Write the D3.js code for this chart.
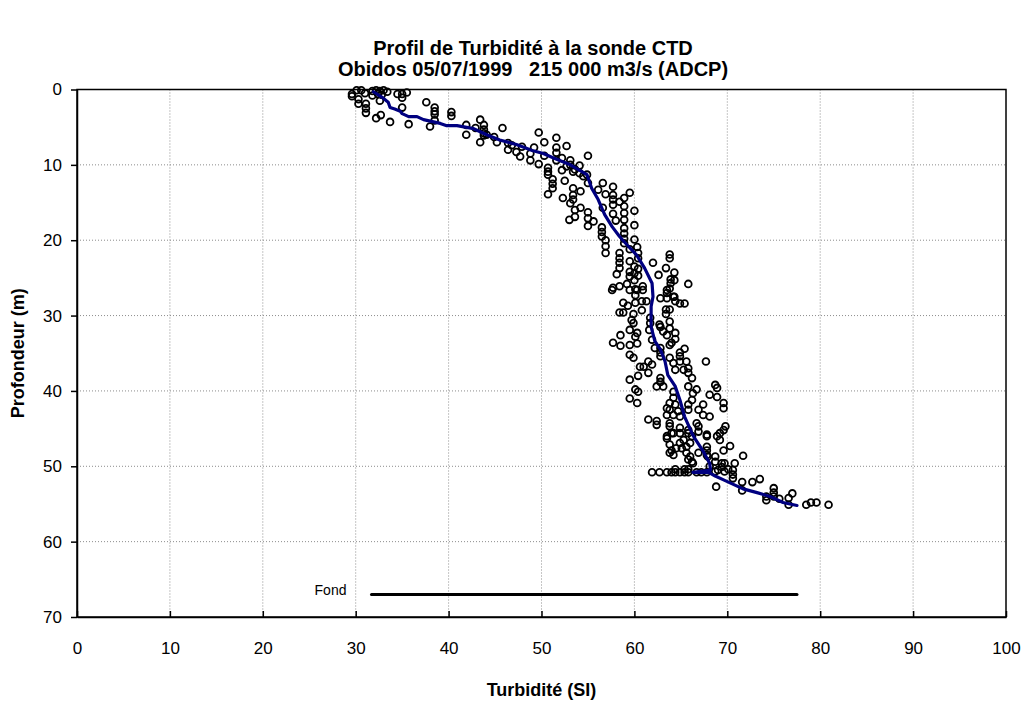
<!DOCTYPE html>
<html>
<head>
<meta charset="utf-8">
<script src="https://cdn.jsdelivr.net/npm/d3@7"></script>
<style>
  html, body { margin: 0; padding: 0; background: #fff; }
  svg { display: block; font-family: "Liberation Sans", Arial, sans-serif; }
</style>
</head>
<body>
<svg id="chart" width="1023" height="702"></svg>
<script>
// CTD turbidity samples: [turbidity (SI), depth (m)]
const samples = [
  [29.6,0.9],[29.6,0.6],[30.1,0.1],[30.3,1.3],[30.3,1.9],[30.6,0.1],[31.0,0.5],[31.1,1.9],[31.1,2.5],[31.1,3.1],
  [31.8,0.2],[32.2,0.1],[32.6,0.2],[33.0,0.1],[33.4,0.3],[31.8,0.8],[32.4,0.6],[32.8,0.7],[32.6,1.5],
  [34.5,0.6],[35.0,0.6],[35.5,0.4],[35.0,1.1],[35.0,2.4],[32.2,3.8],[32.7,3.4],[33.7,4.3],[35.7,4.6],
  [37.6,1.7],[38.5,2.4],[38.5,2.9],[38.5,3.3],[38.5,4.1],[38.0,4.9],[40.3,3.0],[40.3,3.5],[41.9,4.7],[41.9,6.0],
  [42.9,5.1],[43.4,4.0],[43.8,4.7],[43.8,5.3],[43.8,5.8],[43.8,6.1],[43.4,7.0],[44.1,6.0],[45.8,5.1],[44.9,6.3],[45.2,7.0],
  [46.4,7.1],[46.4,8.0],[46.8,7.4],[47.3,8.3],[47.7,8.9],[47.9,7.6],[48.8,8.5],[48.8,9.4],[49.2,7.7],[49.7,5.7],[49.7,9.9],
  [50.3,7.0],[50.3,8.8],[51.6,6.4],
  [52.7,7.5],[51.6,7.7],[55.0,8.8],
  [50.7,10.4],[50.7,10.9],[50.7,11.3],[51.2,11.9],[51.2,12.5],[51.2,13.1],[50.7,13.9],
  [51.6,8.4],[51.6,9.4],[52.2,9.1],[52.2,10.7],[52.7,10.2],[53.1,9.4],[53.1,10.0],[53.4,10.9],[53.6,10.6],[54.1,10.1],
  [54.1,11.1],[54.5,11.5],[54.9,11.3],[55.0,12.4],[52.5,12.1],[53.4,13.1],[53.4,14.0],[53.4,14.6],[53.1,15.1],[53.0,17.3],
  [53.6,16.0],[53.6,16.9],[52.3,14.4],[54.2,13.5],[54.2,15.7],[55.0,16.3],[55.0,17.1],[55.0,18.1],[55.6,17.5],
  [56.1,13.3],[56.6,12.4],[56.6,15.7],[56.9,13.9],[57.7,12.9],[57.7,14.0],[57.7,14.6],[57.7,15.3],[57.7,16.5],
  [56.5,18.3],[56.5,18.9],[56.5,19.5],[56.9,20.0],[56.9,20.8],[56.9,21.7],[58.0,17.4],
  [58.4,14.9],[58.9,14.4],[58.9,15.5],[58.9,16.4],[58.9,17.3],[59.5,13.7],[60.0,16.1],[60.0,18.0],[60.0,19.9],
  [58.9,18.4],[58.9,19.1],[58.9,19.8],[58.9,20.4],[59.5,21.2],[58.4,21.7],[58.4,22.4],[58.4,23.0],[58.4,23.7],
  [58.1,24.5],[57.7,26.3],[58.4,26.1],[59.2,25.8],
  [59.5,22.8],[59.5,24.2],[59.5,24.8],[60.0,24.4],[60.0,23.5],[60.0,25.3],[60.3,20.9],[60.4,21.7],[60.4,22.4],
  [60.4,23.8],[60.4,24.7],[60.1,26.5],[60.1,27.3],[60.9,26.1],[62.0,23.0],
  [62.6,24.6],[63.4,23.7],[63.8,21.9],[63.8,22.4],[64.3,24.3],[63.9,25.2],[63.9,25.7],[64.3,25.3],[63.8,26.4],
  [63.5,27.0],[64.3,27.5],[65.8,25.8],
  [57.6,26.6],[59.5,26.6],[60.3,26.6],[60.9,26.6],[63.5,26.6],
  [58.8,28.3],[59.3,28.7],[60.1,28.3],[60.8,28.1],[61.3,28.1],[62.8,27.7],[63.5,27.7],[64.2,27.5],[64.4,28.1],
  [64.9,28.4],[65.4,28.4],
  [58.4,29.6],[58.8,29.6],[59.9,29.8],[59.7,30.6],[59.9,31.0],[60.8,29.3],[61.7,30.3],[61.7,31.0],[61.6,31.9],
  [63.4,29.2],[63.4,29.8],[63.8,29.2],[63.8,30.8],[62.7,31.2],
  [59.5,31.9],[58.5,32.6],[57.7,33.6],[58.5,34.0],[59.5,33.9],[60.3,32.3],[60.1,32.8],[60.3,33.7],[61.9,33.2],[62.2,34.3],
  [62.8,31.5],[63.1,32.1],[63.5,32.6],[63.8,31.7],[64.4,32.3],[64.4,33.1],[64.0,33.6],[63.8,33.9],
  [62.8,34.3],[62.8,34.9],[62.8,35.4],
  [65.4,34.4],[64.9,34.9],[64.9,35.4],[64.9,36.1],[65.6,36.1],[65.8,37.0],[65.3,37.2],[64.4,37.2],[64.2,36.3],
  [63.8,35.6],[65.8,37.6],[66.2,38.3],[67.7,36.1],
  [59.5,35.2],[59.9,35.6],[60.6,36.8],[61.0,36.8],[61.5,36.1],[61.9,36.5],[61.5,37.6],[60.4,38.0],[59.5,38.5],
  [62.8,38.3],[62.8,38.8],[62.4,39.4],[63.1,39.4],
  [60.1,39.8],[60.4,40.1],[59.5,41.0],[60.3,41.6],
  [64.2,40.1],[64.2,40.9],[64.4,41.8],[63.8,41.6],[63.5,42.3],[63.5,43.2],[63.8,42.5],[64.2,43.2],[64.7,42.7],[64.9,43.4],
  [65.8,39.4],[66.3,40.3],[66.2,41.2],[66.7,39.8],[65.8,41.8],[65.8,42.5],[66.9,42.5],[67.4,41.8],[67.4,43.2],
  [68.1,43.4],[66.7,44.3],[66.9,44.7],[67.8,45.8],
  [68.7,39.2],[68.9,39.6],[68.1,40.5],[68.9,40.8],[69.6,41.6],[69.6,42.3],[69.8,44.7],
  [61.5,43.8],[62.4,44.0],[62.4,44.5],[63.8,44.3],[63.8,44.7],[64.9,44.9],[65.8,45.2],[63.5,46.0],[64.0,45.6],
  [68.9,46.0],[69.6,45.2],
  [63.5,46.3],[63.8,47.1],[64.2,45.6],[64.9,45.6],[64.9,46.9],[65.3,46.5],[65.8,45.6],[66.2,46.0],[66.0,46.9],
  [66.9,45.4],[67.8,46.0],[69.2,45.6],[69.2,46.5],
  [63.8,48.2],[64.2,48.5],[64.0,47.9],[64.5,47.6],[65.1,47.6],[65.6,47.4],[65.6,48.2],[66.0,48.7],[66.2,49.4],
  [65.8,49.1],[66.3,49.6],[66.9,48.2],[67.8,47.4],[67.8,47.9],[67.8,48.5],[67.9,48.7],[68.7,48.7],[69.6,47.9],
  [70.3,47.3],[71.7,48.6],
  [61.9,50.8],[62.7,50.8],[63.5,50.8],[64.0,50.8],[64.4,50.8],[64.9,50.8],[65.4,50.8],[65.8,50.8],[66.7,50.8],
  [67.2,50.8],[67.8,50.8],[64.4,50.4],[65.4,50.4],[65.8,50.4],
  [68.1,50.0],[68.7,49.4],[68.7,50.7],[69.0,50.5],[69.4,49.6],[69.4,50.1],[69.7,49.6],[69.7,50.7],[70.1,50.4],
  [70.6,50.5],[70.6,51.1],[70.6,51.6],[70.8,49.6],[68.8,52.7],
  [71.6,52.1],[71.6,53.2],[72.7,52.1],[73.5,51.7],
  [74.2,54.0],[74.2,54.5],[75.0,52.9],[75.0,53.5],[75.0,54.0],[75.6,54.3],[76.6,54.2],[76.6,55.1],[77.0,53.6],
  [78.5,55.1],[79.0,54.8],[79.6,54.8],[80.9,55.1]
];

// Smoothed profile: [turbidity (SI), depth (m)]
const profile = [
  [31.9,0.3],[32.8,1.0],[33.5,1.7],[33.7,2.4],[34.2,2.6],[34.8,2.9],[35.0,3.2],[35.7,3.6],[36.6,3.6],[37.3,4.0],
  [39.1,4.5],[39.8,4.8],[40.9,4.8],[42.7,5.2],[44.1,6.0],[45.5,6.7],[47.3,7.3],[49.0,8.1],[50.2,8.5],[51.3,9.1],
  [53.1,10.0],[54.9,11.3],[55.4,13.1],[56.1,14.6],[56.8,16.6],[57.6,18.2],[58.4,19.5],[59.2,20.6],[60.2,21.9],
  [61.1,23.7],[61.9,25.7],[62.0,27.5],[61.8,28.8],[61.8,31.5],[62.2,33.4],[62.8,34.5],[63.3,36.1],[63.6,37.9],
  [64.4,39.4],[64.9,41.2],[65.4,43.4],[66.2,45.6],[66.5,46.3],[67.4,48.0],[68.1,49.6],[68.2,50.5],[66.3,50.8],
  [68.0,50.8],[68.7,51.3],[69.6,51.8],[70.3,52.2],[71.7,53.0],[73.2,53.5],[74.6,54.0],[76.0,54.8],[77.5,55.2]
];

// River bed ("Fond") extent
const fondTurbidity = [31.7, 77.5];
const fondDepth = 67;

const xTicks = [0, 10, 20, 30, 40, 50, 60, 70, 80, 90, 100];
const yTicks = [0, 10, 20, 30, 40, 50, 60, 70];

const titleLines = ["Profil de Turbidité à la sonde CTD", "Obidos 05/07/1999   215 000 m3/s (ADCP)"];
const xTitle = "Turbidité (SI)";
const yTitle = "Profondeur (m)";

const svg = d3.select("#chart");
const plot = { left: 77, top: 89.5, right: 1006, bottom: 617 };

const x = d3.scaleLinear().domain([0, 100]).range([plot.left, plot.right]);
const y = d3.scaleLinear().domain([0, 70]).range([plot.top, plot.bottom]);

// Dotted grid
const grid = svg.append("g").attr("stroke", "#8c8c8c").attr("stroke-width", 1).attr("stroke-dasharray", "1,2");
grid.selectAll("line.v").data(xTicks.filter(d => d > 0 && d < 100)).join("line")
  .attr("x1", d => x(d)).attr("x2", d => x(d)).attr("y1", plot.top).attr("y2", plot.bottom);
grid.selectAll("line.h").data(yTicks.filter(d => d > 0 && d < 70)).join("line")
  .attr("x1", plot.left).attr("x2", plot.right).attr("y1", d => y(d)).attr("y2", d => y(d));

// Plot frame
svg.append("rect")
  .attr("x", plot.left).attr("y", plot.top)
  .attr("width", plot.right - plot.left).attr("height", plot.bottom - plot.top)
  .attr("fill", "none").attr("stroke", "#000").attr("stroke-width", 1.5);

// Axes
const xAxis = svg.append("g").attr("transform", `translate(0,${plot.bottom})`)
  .call(d3.axisBottom(x).tickValues(xTicks).tickSizeInner(-6).tickSizeOuter(0).tickPadding(25));
const yAxis = svg.append("g").attr("transform", `translate(${plot.left},0)`)
  .call(d3.axisLeft(y).tickValues(yTicks).tickSizeInner(6).tickSizeOuter(0).tickPadding(9));
[xAxis, yAxis].forEach(g => {
  g.select(".domain").attr("stroke", "#000").attr("stroke-width", 1.5);
  g.selectAll(".tick line").attr("stroke", "#000").attr("stroke-width", 1.5);
  g.selectAll(".tick text").attr("fill", "#000")
    .style("font-family", "'Liberation Sans', Arial, sans-serif").style("font-size", "17px");
});

// Sample markers
svg.append("g").selectAll("circle").data(samples).join("circle")
  .attr("cx", d => x(d[0])).attr("cy", d => y(d[1])).attr("r", 3.4)
  .attr("fill", "none").attr("stroke", "#000").attr("stroke-width", 1.8);

// Profile line
svg.append("path").datum(profile)
  .attr("d", d3.line().x(d => x(d[0])).y(d => y(d[1])))
  .attr("fill", "none").attr("stroke", "#000080").attr("stroke-width", 3.2)
  .attr("stroke-linejoin", "round").attr("stroke-linecap", "round");

// River bed line and label
svg.append("line")
  .attr("x1", x(fondTurbidity[0])).attr("x2", x(fondTurbidity[1]))
  .attr("y1", y(fondDepth)).attr("y2", y(fondDepth))
  .attr("stroke", "#000").attr("stroke-width", 3).attr("stroke-linecap", "round");
svg.append("text")
  .attr("x", x(fondTurbidity[0]) - 25).attr("y", y(fondDepth) + 1)
  .attr("text-anchor", "end").style("font-size", "14px").text("Fond");

// Titles
svg.append("g").selectAll("text").data(titleLines).join("text")
  .attr("x", 533).attr("y", (d, i) => 55 + i * 21)
  .attr("text-anchor", "middle").style("font-size", "20px").style("font-weight", "bold")
  .style("white-space", "pre").text(d => d);

svg.append("text")
  .attr("x", x(50)).attr("y", 696)
  .attr("text-anchor", "middle").style("font-size", "18px").style("font-weight", "bold")
  .text(xTitle);

svg.append("text")
  .attr("transform", `translate(24,${(plot.top + plot.bottom) / 2}) rotate(-90)`)
  .attr("text-anchor", "middle").style("font-size", "18px").style("font-weight", "bold")
  .text(yTitle);
</script>
</body>
</html>
